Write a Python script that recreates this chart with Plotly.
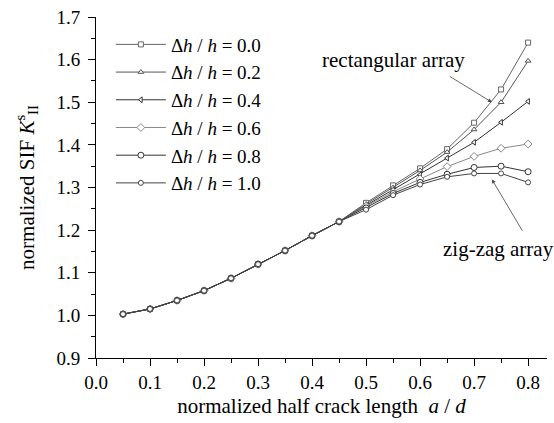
import plotly.graph_objects as go

x_vals = [0.05, 0.10, 0.15, 0.20, 0.25, 0.30, 0.35, 0.40, 0.45, 0.50, 0.55, 0.60, 0.65, 0.70, 0.75, 0.80]
common = [1.003, 1.015, 1.035, 1.058, 1.087, 1.120, 1.152, 1.187, 1.220]
y_00 = common + [1.264, 1.305, 1.345, 1.390, 1.452, 1.530, 1.640]
y_02 = common + [1.261, 1.300, 1.340, 1.383, 1.436, 1.500, 1.597]
y_04 = common + [1.258, 1.295, 1.330, 1.369, 1.406, 1.453, 1.502]
y_06 = common + [1.256, 1.290, 1.320, 1.349, 1.373, 1.392, 1.402]
y_08 = common + [1.252, 1.286, 1.312, 1.331, 1.347, 1.350, 1.337]
y_10 = common + [1.248, 1.282, 1.307, 1.325, 1.333, 1.333, 1.312]

labels = ["0.0", "0.2", "0.4", "0.6", "0.8", "1.0"]
series = [y_00, y_02, y_04, y_06, y_08, y_10]
symbols = ["square", "triangle-up", "triangle-left", "diamond", "circle", "circle"]
colors = ["#666666", "#555555", "#333333", "#888888", "#333333", "#444444"]
msizes = [5, 5, 5, 6, 6, 5]

serif = "Liberation Serif"
fig = go.Figure()
for lab, ys, sym, col, ms in zip(labels, series, symbols, colors, msizes):
    fig.add_trace(go.Scatter(
        x=x_vals, y=ys, mode="lines+markers",
        name="\u0394<i>h</i> / <i>h</i> = " + lab,
        line=dict(color=col, width=1),
        marker=dict(symbol=sym, size=ms, color="white", line=dict(color=col, width=1)),
    ))

fig.add_annotation(x=0.733, y=1.50, ax=0.652, ay=1.563, axref="x", ayref="y",
                   xref="x", yref="y", text="", showarrow=True, arrowhead=2,
                   arrowsize=1, arrowwidth=0.8, arrowcolor="#444")
fig.add_annotation(x=0.733, y=1.319, ax=0.791, ay=1.195, axref="x", ayref="y",
                   xref="x", yref="y", text="", showarrow=True, arrowhead=2,
                   arrowsize=1, arrowwidth=0.8, arrowcolor="#444")
fig.add_annotation(x=0.55, y=1.598, xref="x", yref="y", text="rectangular array",
                   showarrow=False, font=dict(family=serif, size=21, color="black"))
fig.add_annotation(x=0.745, y=1.156, xref="x", yref="y", text="zig-zag array",
                   showarrow=False, font=dict(family=serif, size=21, color="black"))

axis_common = dict(showline=True, linecolor="black", linewidth=1, ticks="outside",
                   ticklen=7, tickcolor="black", showgrid=False, zeroline=False,
                   tickfont=dict(family=serif, size=19, color="black"),
                   minor=dict(ticks="outside", ticklen=4, tickcolor="black"))

fig.update_xaxes(range=[0, 0.835], tickvals=[0, 0.1, 0.2, 0.3, 0.4, 0.5, 0.6, 0.7, 0.8],
                 ticktext=["0.0", "0.1", "0.2", "0.3", "0.4", "0.5", "0.6", "0.7", "0.8"],
                 minor_dtick=0.05, minor_tick0=0,
                 title=dict(text="normalized half crack length  <i>a</i> / <i>d</i>",
                            font=dict(family=serif, size=21, color="black"), standoff=6),
                 **axis_common)
fig.update_yaxes(range=[0.9, 1.7], dtick=0.1, tickformat=".1f",
                 minor_dtick=0.05, minor_tick0=0.9, ticklabelstandoff=4,
                 title=dict(text="normalized SIF <i>K</i><sup>s</sup><sub>II</sub>",
                            font=dict(family=serif, size=21, color="black"), standoff=16),
                 **axis_common)

fig.update_layout(
    width=554, height=423,
    margin=dict(l=96, r=7, t=15, b=65),
    plot_bgcolor="white", paper_bgcolor="white",
    font=dict(family=serif),
    legend=dict(x=0.033, y=0.975, xanchor="left", yanchor="top", bgcolor="rgba(0,0,0,0)",
                font=dict(family=serif, size=19, color="black"), itemwidth=50,
                tracegroupgap=2),
)

fig.write_html("out.html")
